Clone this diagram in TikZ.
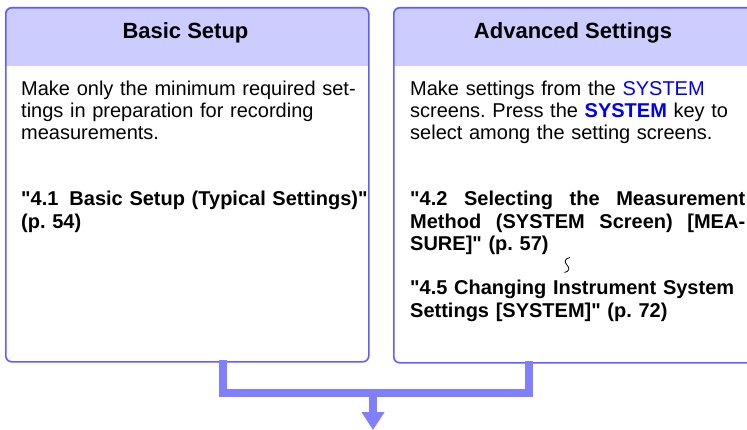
\documentclass[tikz,border=0pt]{standalone}
\usepackage{fontspec}
\setmainfont{Liberation Sans}
\usetikzlibrary{arrows.meta}
\definecolor{hdr}{RGB}{204,204,255}
\definecolor{bord}{RGB}{95,95,255}
\definecolor{connc}{RGB}{128,128,255}
\definecolor{sysblue}{RGB}{0,0,245}
\newcommand{\dq}{\textquotedbl}
\frenchspacing
\begin{document}
\begin{tikzpicture}[x=1pt,y=-1pt,
 box/.style={draw=bord, line width=1.6pt, rounded corners=6pt, minimum width=#1, minimum height=354pt, anchor=north west, inner sep=0pt},
 titletext/.style={font=\fontsize{22}{25}\selectfont\bfseries, anchor=base, inner sep=0pt},
 bodytext/.style={font=\fontsize{20}{21.8}\selectfont, anchor=base west, inner sep=0pt, text width=#1, align=left},
 reftext/.style={font=\fontsize{20}{22.5}\selectfont\bfseries, anchor=base west, inner sep=0pt, text width=#1, align=left},
 connline/.style={draw=connc, line width=8pt, line join=miter},
]
\useasboundingbox (0,0) rectangle (747,430);
\clip (0,0) rectangle (747,430);
% header bands
\begin{scope}
\clip[rounded corners=6pt] (5,7) rectangle (368,361);
\fill[hdr] (5,7) rectangle (368,66);
\end{scope}
\begin{scope}
\clip[rounded corners=6pt] (393,7) rectangle (753,362);
\fill[hdr] (393,7) rectangle (753,66);
\end{scope}
% boxes
\node[box=363pt] (basic) at (5,7) {};
\node[box=360pt, minimum height=355pt] (adv) at (393,7) {};
% titles
\node[titletext] (btitle) at (185.5,38.5) {Basic Setup};
\node[titletext] (atitle) at (573,38.5) {Advanced Settings};
% left texts
\node[bodytext=345pt] (bbody) at (21,95.5) {Make only the minimum required set-\\tings in preparation for recording\\measurements.};
\node[reftext=360pt] (bref) at (21,206) {\dq4.1\hspace{0.55em}Basic Setup (Typical Settings)\dq\\(p. 54)};
% right texts
\node[bodytext=345pt] (abody) at (410,95.5) {Make settings from the {\color{sysblue}SYSTEM}\\screens. Press the \textbf{\color{sysblue}SYSTEM} key to\\select among the setting screens.};
\node[reftext=345pt] (aref) at (410,206) {\makebox[335pt][l]{\dq4.2\hfill Selecting\hfill the\hfill Measurement}\\\makebox[335pt][l]{Method\hfill (SYSTEM\hfill Screen)\hfill [MEA-}\\SURE]\dq{} (p. 57)};
\node[reftext=345pt] (aref2) at (410,295) {\dq4.5 Changing Instrument System\\Settings [SYSTEM]\dq{} (p. 72)};
% squiggle
\draw[line width=0.8pt] (570,257.5) .. controls (564.5,258.5) and (564,262) .. (567,265) .. controls (570,268) and (569.5,271.5) .. (564.5,272.5);
% connectors
\coordinate (ltop) at (223,360);
\coordinate (rtop) at (529,361);
\coordinate (join) at (373,393);
\coordinate (tip) at (373,430);
\draw[connline] (ltop) |- (join) -| (rtop);
\draw[connline, -{Triangle[width=22pt,length=18pt]}] (join) -- (tip);
\end{tikzpicture}
\end{document}
